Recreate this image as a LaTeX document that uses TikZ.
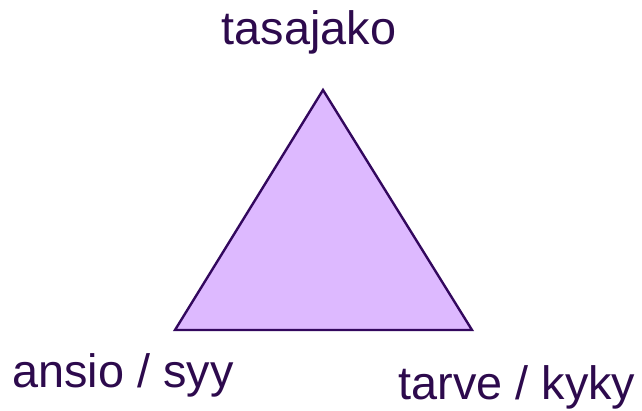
\documentclass[tikz,border=0pt]{standalone}
\usepackage{fontspec}
\setmainfont{Liberation Sans}
\definecolor{trifill}{HTML}{DDB9FF}
\definecolor{triline}{HTML}{33085E}
\definecolor{txt}{HTML}{2D0A4D}
\begin{document}
\begin{tikzpicture}[x=1pt,y=1pt,
  lbl/.style={anchor=base,inner sep=0pt,text=txt,font=\fontsize{46.8}{50}\selectfont}]
\useasboundingbox (0,0) rectangle (642,411);
\coordinate (top) at (323,321);
\coordinate (bl) at (175,81);
\coordinate (br) at (472,81);
\draw[triline,fill=trifill,line width=2.4pt,line join=miter] (top) -- (br) -- (bl) -- cycle;
\node[lbl] (t) at (309,366) {tasajako};
\node[lbl] (a) at (123,23) {ansio / syy};
\node[lbl] (k) at (517,11) {tarve / kyky};
\end{tikzpicture}
\end{document}
